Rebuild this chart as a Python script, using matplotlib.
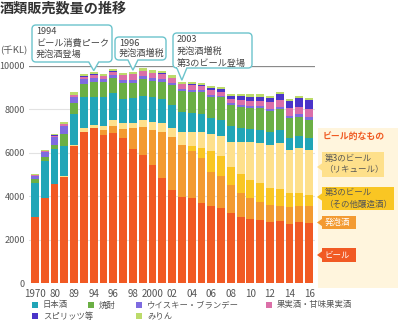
import matplotlib
matplotlib.use("Agg")
import matplotlib.pyplot as plt
from matplotlib.path import Path
from matplotlib.patches import PathPatch, Rectangle, Polygon
import numpy as np

plt.rcParams['font.family'] = ['Noto Sans CJK JP', 'DejaVu Sans']

# ---------------- data (千KL) ----------------
years = ['1970', '75', '80', '85', '89', '92', '94', '95', '96', '97', '98', '99', '2000',
         '01', '02', '03', '04', '05', '06', '07', '08', '09', '10', '11', '12', '13', '14', '15', '16']
tick_idx = list(range(0, 29, 2))

beer = [3037, 3911, 4556, 4878, 6318, 6977, 7133, 6825, 6931, 6700, 6190, 5904, 5460,
        4830, 4294, 3985, 3911, 3682, 3541, 3450, 3221, 3037, 2959, 2913, 2835, 2867, 2729, 2807, 2761]
happoshu = [0, 0, 0, 0, 0, 0, 10, 207, 290, 417, 957, 1303, 1595,
            2147, 2453, 2380, 2177, 2070, 1567, 1502, 1303, 1105, 952, 842, 768, 704, 796, 764, 810]
third_other = [0, 0, 0, 0, 0, 0, 0, 0, 0, 0, 0, 0, 0,
               0, 0, 0, 230, 488, 980, 920, 842, 874, 843, 847, 769, 769, 617, 571, 493]
third_liqueur = [0, 0, 10, 40, 50, 180, 142, 220, 280, 246, 238, 323, 382,
                 386, 386, 612, 659, 709, 769, 924, 1151, 1473, 1735, 1841, 1992, 2103, 1992, 2070, 2070]
sake = [1590, 1717, 1610, 1400, 1423, 1403, 1302, 1330, 1243, 1127, 1129, 1112, 1123,
        1105, 1072, 920, 846, 828, 736, 719, 722, 672, 612, 612, 613, 612, 566, 580, 566]
shochu = [185, 198, 198, 553, 492, 598, 691, 672, 691, 714, 690, 746, 765,
          810, 921, 960, 994, 1013, 994, 1041, 966, 966, 980, 1026, 952, 966, 893, 875, 815]
whisky = [123, 230, 355, 382, 277, 230, 184, 150, 160, 140, 130, 140, 130,
          120, 110, 100, 90, 90, 78, 80, 78, 100, 92, 92, 92, 107, 120, 110, 123]
fruit = [30, 40, 60, 64, 105, 120, 124, 120, 150, 220, 280, 230, 210,
         230, 200, 200, 200, 190, 230, 181, 198, 208, 216, 215, 308, 307, 340, 350, 383]
spirits = [10, 10, 15, 15, 20, 25, 25, 25, 25, 25, 25, 30, 30,
           30, 30, 30, 50, 40, 106, 124, 152, 185, 198, 200, 212, 262, 336, 387, 414]
mirin = [40, 40, 70, 74, 100, 100, 106, 100, 100, 100, 100, 110, 110,
         110, 100, 90, 90, 90, 78, 107, 78, 77, 110, 107, 92, 120, 92, 106, 79]

series = [
    ('ビール', beer, '#F15A24'),
    ('発泡酒', happoshu, '#F39A31'),
    ('第3のビール（その他醸造酒）', third_other, '#F9C623'),
    ('第3のビール（リキュール）', third_liqueur, '#FEE08B'),
    ('日本酒', sake, '#21A5B7'),
    ('焼酎', shochu, '#6BAF45'),
    ('ウイスキー・ブランデー', whisky, '#7E6BE0'),
    ('果実酒・甘味果実酒', fruit, '#DB6FA8'),
    ('スピリッツ等', spirits, '#4A34C9'),
    ('みりん', mirin, '#BCDB6B'),
]

W, H = 398, 328
fig = plt.figure(figsize=(W / 100, H / 100), dpi=100)

def fx(px):
    return px / W

def fy(py):
    return 1 - py / H

ax = fig.add_axes([fx(29), 44.7 / H, 286 / W, 217.3 / H])
x = np.arange(len(years))
bottom = np.zeros(len(years))
for name, vals, col in series:
    v = np.array(vals, dtype=float)
    ax.bar(x, v, bottom=bottom, width=0.8, color=col, edgecolor='none', zorder=2)
    bottom += v
totals = bottom.copy()

ax.set_xlim(-0.613, 28.6)
ax.set_ylim(0, 10000)
ax.set_yticks([0, 2000, 4000, 6000, 8000, 10000])
ax.set_yticklabels(['0', '2000', '4000', '6000', '8000', '10000'])
ax.set_xticks(tick_idx)
ax.set_xticklabels([years[i] for i in tick_idx])
ax.tick_params(length=0, labelsize=6.5, colors='#555555', pad=3)
ax.tick_params(axis='x', labelsize=7, pad=4)
for s in ax.spines.values():
    s.set_visible(False)
ax.yaxis.grid(True, color='#e2e2e2', lw=0.8)
ax.set_axisbelow(True)
ax.axhline(10000, color='#8a8a8a', lw=0.9, zorder=1)

# ---------------- title ----------------
fig.text(fx(0), fy(8), '酒類販売数量の推移', fontsize=10.2, fontweight='bold',
         color='#333333', va='center', ha='left')
fig.text(fx(0), fy(51), '(千KL)', fontsize=6.8, color='#555555', va='center', ha='left')

# ---------------- callouts ----------------
def data_to_px(xd, yd):
    dx, dy = ax.transData.transform((xd, yd))
    return dx, H - dy

def callout(x0, y0, x1, y1, tx, ty, r=4, w=5):
    pts = [(x0 + r, y0), (x1 - r, y0), (x1, y0), (x1, y0 + r), (x1, y1 - r), (x1, y1),
           (x1 - r, y1), (tx + w, y1), (tx, ty), (tx - w, y1), (x0 + r, y1), (x0, y1),
           (x0, y1 - r), (x0, y0 + r), (x0, y0), (x0 + r, y0), (x0 + r, y0)]
    codes = [Path.MOVETO, Path.LINETO, Path.CURVE3, Path.CURVE3, Path.LINETO, Path.CURVE3,
             Path.CURVE3, Path.LINETO, Path.LINETO, Path.LINETO, Path.LINETO, Path.CURVE3,
             Path.CURVE3, Path.LINETO, Path.CURVE3, Path.CURVE3, Path.CLOSEPOLY]
    verts = [(fx(a), fy(b)) for a, b in pts]
    p = PathPatch(Path(verts, codes), transform=fig.transFigure, facecolor='white',
                  edgecolor='#6cc4cc', lw=1.0, zorder=5)
    fig.patches.append(p)

notes = [
    (6, 32, 25, 112, 62, ['1994', 'ビール消費ピーク', '発泡酒登場'], [32, 43, 54]),
    (10, 115, 37, 166, 60, ['1996', '発泡酒増税'], [43, 53.5]),
    (15, 173, 33, 252, 68, ['2003', '発泡酒増税', '第3のビール登場'], [40, 51.5, 63]),
]
for bi, x0, y0, x1, y1, lines, ys in notes:
    tpx, tpy = data_to_px(bi, totals[bi])
    callout(x0, y0, x1, y1, tpx, tpy - 1.5)
    for t, yy in zip(lines, ys):
        fig.text(fx(x0 + 4), fy(yy), t, fontsize=6.6, color='#444444', va='center',
                 ha='left', zorder=6)

# ---------------- right panel ----------------
fig.patches.append(Rectangle((fx(318), fy(288)), fx(80), (288 - 128) / H,
                             transform=fig.transFigure, facecolor='#FFF5DD',
                             edgecolor='none', zorder=0))
fig.text(fx(323), fy(137), 'ビール的なもの', fontsize=6.4, fontweight='bold',
         color='#F05A22', va='center', ha='left')

def tag(x0, y0, x1, y1, col, lines, ys, tcol, tipy):
    fig.patches.append(Rectangle((fx(x0), fy(y1)), (x1 - x0) / W, (y1 - y0) / H,
                                 transform=fig.transFigure, facecolor=col,
                                 edgecolor='none', zorder=3))
    fig.patches.append(Polygon([(fx(x0 + 0.5), fy(tipy - 4)), (fx(x0 - 5), fy(tipy)),
                                (fx(x0 + 0.5), fy(tipy + 4))],
                               transform=fig.transFigure, facecolor=col,
                               edgecolor='none', zorder=3))
    for t, yy in zip(lines, ys):
        fig.text(fx(x0 + 2.5), fy(yy), t, fontsize=6.1, color=tcol, va='center',
                 ha='left', zorder=4)

tag(322, 152, 384, 177, series[3][2], ['第3のビール', '（リキュール）'], [158.5, 170], '#555555', 167)
tag(322, 187, 394, 210, series[2][2], ['第3のビール', '（その他醸造酒）'], [192.5, 204], '#555555', 197)
tag(322, 216, 356, 229, series[1][2], ['発泡酒'], [222.5], 'white', 222.5)
tag(322, 248, 356, 262, series[0][2], ['ビール'], [255], 'white', 255)

# ---------------- legend ----------------
leg = [(4, 35, 305), (5, 91, 305), (6, 139, 305), (7, 269, 305), (8, 35, 316), (9, 139, 316)]
for si, px, py in leg:
    name, _, col = series[si]
    fig.patches.append(Rectangle((fx(px - 3), fy(py + 3)), 6 / W, 6 / H,
                                 transform=fig.transFigure, facecolor=col, edgecolor='none'))
    fig.text(fx(px + 8), fy(py), name, fontsize=6.0, color='#555555', va='center', ha='left')

fig.savefig('out.png', dpi=100)
